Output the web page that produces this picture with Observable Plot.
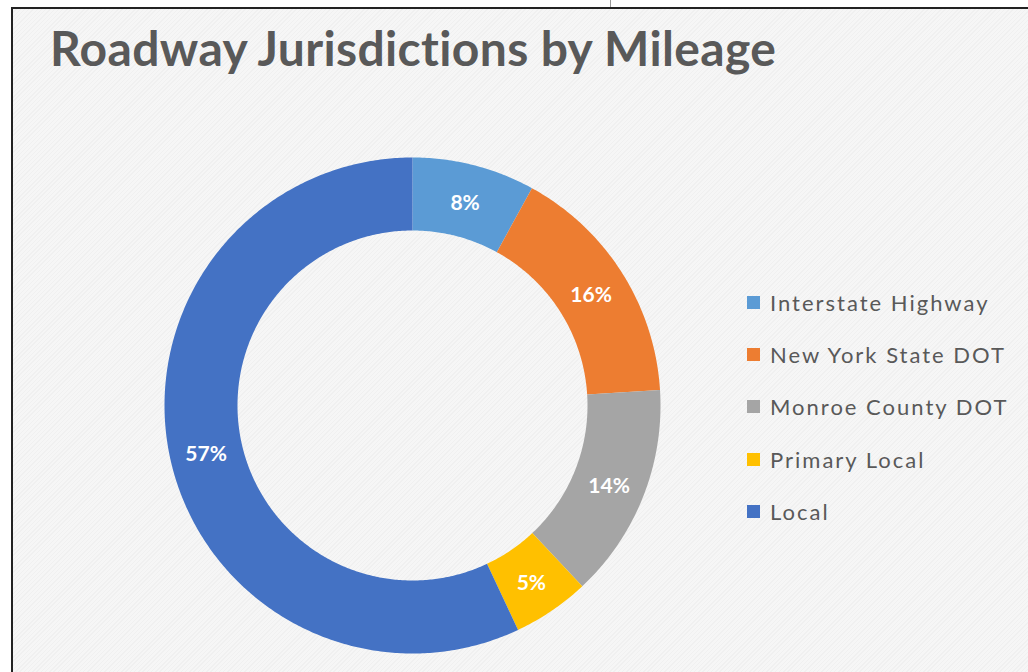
<!DOCTYPE html>
<html>
<head>
<meta charset="utf-8">
<script src="https://cdn.jsdelivr.net/npm/d3@7"></script>
<script src="https://cdn.jsdelivr.net/npm/@observablehq/plot@0.6"></script>
<style>
  html, body { margin: 0; padding: 0; background: #ffffff; }
  #page { position: relative; width: 1028px; height: 672px; overflow: hidden; background: #fff; }
  #frame {
    position: absolute; left: 11px; top: 7px; width: 1030px; height: 680px;
    border-left: 2px solid #222; border-top: 2px solid #222;
    background: repeating-linear-gradient(135deg, #f6f6f6 0px, #f6f6f6 2px, #f0f0f0 2px, #f0f0f0 3px);
  }
  #tick { position: absolute; left: 610px; top: 0; width: 1px; height: 7px; background: #999; }
  #title {
    position: absolute; left: 50px; top: 19px;
    font-family: Lato, "Open Sans", sans-serif; font-weight: bold; font-size: 48px;
    color: #595959; white-space: nowrap; letter-spacing: 0.35px;
  }
  #chart { position: absolute; left: 152px; top: 145px; }
  #chart svg { overflow: visible; }
  #legend { position: absolute; left: 747px; top: 276px; font-family: Lato, "Open Sans", sans-serif; font-size: 22px; letter-spacing: 2px; color: #595959; }
  .item { display: flex; align-items: center; height: 52.3px; white-space: nowrap; }
  .sw { width: 13px; height: 13px; margin-right: 10px; }
</style>
</head>
<body>
<div id="page">
  <div id="tick"></div>
  <div id="frame"></div>
  <div id="title">Roadway Jurisdictions by Mileage</div>
  <div id="chart"></div>
  <div id="legend"></div>
</div>
<script>
const categories = ["Interstate Highway", "New York State DOT", "Monroe County DOT", "Primary Local", "Local"];
const shares = [8, 16, 14, 5, 57];
const colors = ["#5B9BD5", "#ED7D31", "#A5A5A5", "#FFC000", "#4472C4"];
const labels = ["8%", "16%", "14%", "5%", "57%"];

const R_OUT = 248, R_IN = 175, HALF = 260;

const pie = d3.pie().sort(null).value(d => d.value)(categories.map((c, i) => ({category: c, value: shares[i]})));

// outline polygons for each slice (angle 0 = top, clockwise)
const pts = [];
pie.forEach(p => {
  const n = Math.max(8, Math.ceil((p.endAngle - p.startAngle) / 0.01));
  for (let k = 0; k <= n; k++) {
    const a = p.startAngle + (p.endAngle - p.startAngle) * k / n;
    pts.push({category: p.data.category, x: R_OUT * Math.sin(a), y: R_OUT * Math.cos(a)});
  }
  for (let k = n; k >= 0; k--) {
    const a = p.startAngle + (p.endAngle - p.startAngle) * k / n;
    pts.push({category: p.data.category, x: R_IN * Math.sin(a), y: R_IN * Math.cos(a)});
  }
});
const labelPts = pie.map((p, i) => {
  const a = (p.startAngle + p.endAngle) / 2, r = (R_OUT + R_IN) / 2;
  return {label: labels[i], x: r * Math.sin(a), y: r * Math.cos(a)};
});

const chart = Plot.plot({
  width: 2 * HALF, height: 2 * HALF,
  margin: 0,
  x: {domain: [-HALF, HALF], axis: null},
  y: {domain: [-HALF, HALF], axis: null},
  color: {domain: categories, range: colors},
  style: {background: "transparent", overflow: "visible"},
  marks: [
    Plot.line(pts, {x: "x", y: "y", z: "category", fill: "category", stroke: "none", curve: "linear-closed",
      style: {filter: "drop-shadow(0px 0px 7px rgba(0,0,0,0.25))"}}),
    Plot.text(labelPts, {x: "x", y: "y", text: "label", fill: "white", fontSize: 21, fontWeight: "bold", dy: 3,
      fontFamily: "Lato, 'Open Sans', sans-serif", style: {letterSpacing: "0.6px"}})
  ]
});
document.getElementById("chart").appendChild(chart);

const legend = document.getElementById("legend");
categories.forEach((c, i) => {
  const row = document.createElement("div");
  row.className = "item";
  const sw = document.createElement("div");
  sw.className = "sw"; sw.style.background = colors[i];
  const t = document.createElement("span");
  t.textContent = c;
  row.appendChild(sw); row.appendChild(t);
  legend.appendChild(row);
});
</script>
</body>
</html>
